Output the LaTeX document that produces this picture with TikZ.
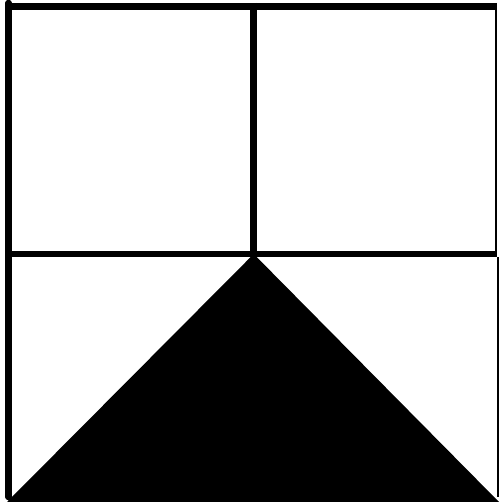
\documentclass[tikz,border=0pt]{standalone}
\begin{document}
\begin{tikzpicture}[x=1pt,y=-1pt,
  thick line/.style={line width=6.5pt},
  thin line/.style={line width=2pt}]
\useasboundingbox (0,0) rectangle (499,502);
\coordinate (tl) at (5,6.5);
\coordinate (tr) at (497,6.5);
\coordinate (tm) at (253.7,3);
\coordinate (c) at (253.7,254);
\coordinate (ml) at (5,254);
\coordinate (mr) at (497,254);
\coordinate (lt) at (8.5,3);
\coordinate (lb) at (8.5,497);
\coordinate (bl) at (7,502);
\coordinate (br) at (499,502);
\draw[thick line] (tl) -- (tr);
\draw[thick line, line cap=round] (lt) -- (lb);
\draw[thick line] (tm) -- (c);
\draw[thick line] (ml) -- (mr);
\draw[thin line] (496,3) -- (496,251);
\draw[thin line] (498,257) -- (498,497);
\fill (bl) -- (c) -- (br) -- cycle;
\end{tikzpicture}
\end{document}
